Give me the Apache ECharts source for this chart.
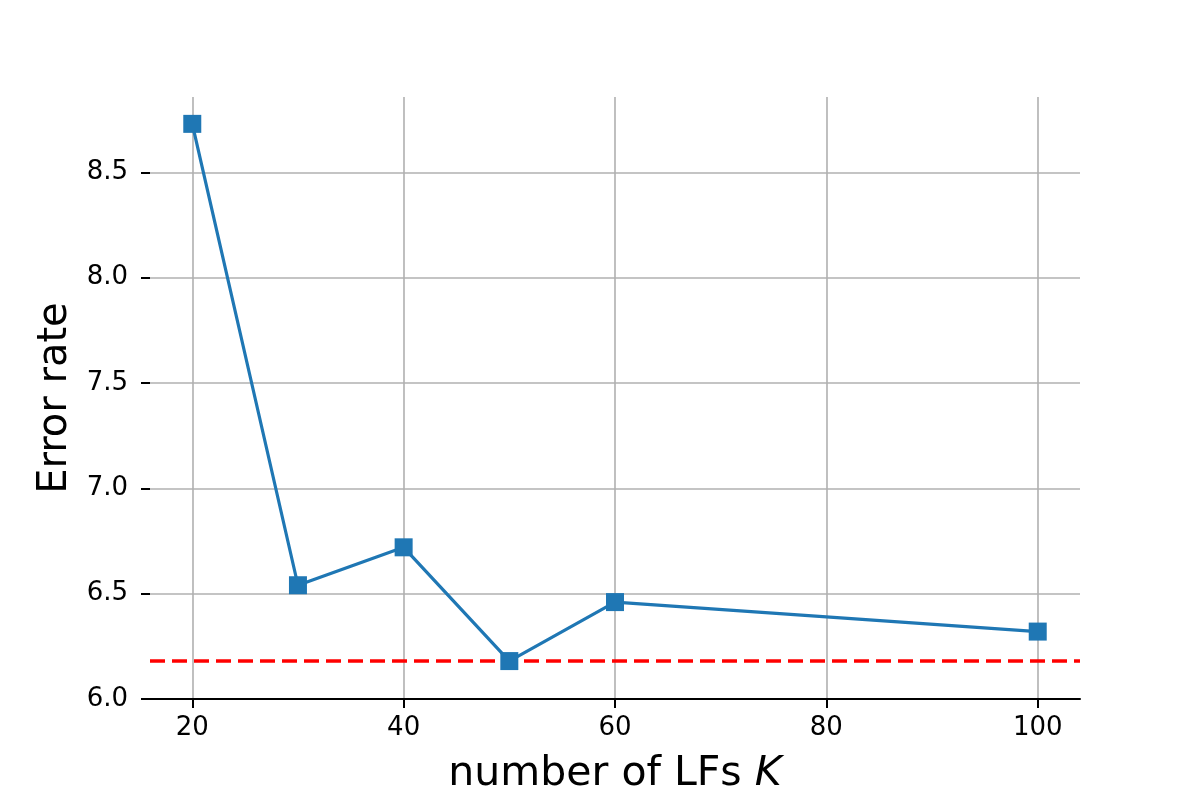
<!DOCTYPE html>
<html><head><meta charset="utf-8">
<script src="https://cdn.jsdelivr.net/npm/echarts@6/dist/echarts.min.js"></script>
<style>html,body{margin:0;padding:0;background:#fff}#c{width:1200px;height:800px}</style>
</head><body><div id="c"></div>
<script>
const kValues = [20, 30, 40, 50, 60, 100];
const errorRates = [8.73, 6.54, 6.72, 6.18, 6.46, 6.32];
const baseline = 6.18;
const xTicks = [20, 40, 60, 80, 100];
const yTicks = [6.0, 6.5, 7.0, 7.5, 8.0, 8.5];

const chart = echarts.init(document.getElementById('c'), null, {renderer: 'canvas'});
const font = 'DejaVu Sans';
chart.setOption({
  animation: false,
  backgroundColor: '#ffffff',
  grid: {left: 150, right: 120, top: 97, bottom: 100, containLabel: false},
  xAxis: {
    type: 'value', min: 16, max: 104,
    name: '{n|number of LFs }{k|K}', nameLocation: 'middle', nameGap: 55,
    nameTextStyle: {rich: {
      n: {fontFamily: font, fontSize: 41, color: '#000'},
      k: {fontFamily: font, fontSize: 41, fontStyle: 'italic', color: '#000'}
    }},
    axisLine: {show: true, lineStyle: {color: '#000', width: 2}},
    axisTick: {show: true, length: 9, lineStyle: {color: '#000', width: 2}, customValues: xTicks},
    axisLabel: {fontFamily: font, fontSize: 26, color: '#000', margin: 16, customValues: xTicks},
    splitLine: {show: true, lineStyle: {color: '#b0b0b0', width: 1.6}}
  },
  yAxis: {
    type: 'value', min: 6.0, max: 8.8575,
    name: 'Error rate', nameLocation: 'middle', nameGap: 73,
    nameTextStyle: {fontFamily: font, fontSize: 40, color: '#000'},
    axisLine: {show: false},
    axisTick: {show: true, length: 9, lineStyle: {color: '#000', width: 2}, customValues: yTicks},
    axisLabel: {fontFamily: font, fontSize: 26, color: '#000', margin: 22, customValues: yTicks,
      formatter: v => v.toFixed(1)},
    splitLine: {show: true, lineStyle: {color: '#b0b0b0', width: 1.6}}
  },
  series: [{
    type: 'line',
    data: kValues.map((k, i) => [k, errorRates[i]]),
    symbol: 'rect', symbolSize: 18,
    lineStyle: {color: '#1f77b4', width: 3.2},
    itemStyle: {color: '#1f77b4'},
    z: 5,
    markLine: {
      silent: true, symbol: 'none', label: {show: false},
      lineStyle: {color: '#ff0000', type: [15, 7], width: 3.5},
      data: [[{coord: [16, baseline]}, {coord: [104, baseline]}]]
    }
  }]
});
</script></body></html>
